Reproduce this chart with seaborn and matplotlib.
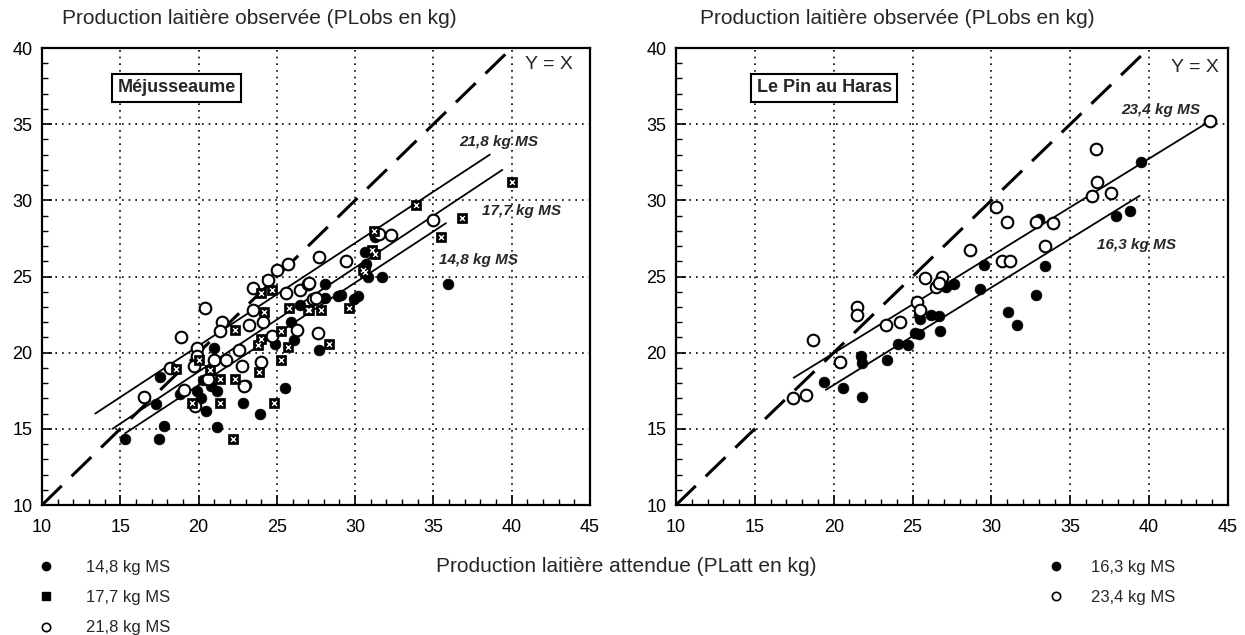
import numpy as np
import pandas as pd
import matplotlib
matplotlib.use("Agg")
import matplotlib.pyplot as plt
import seaborn as sns
from matplotlib.lines import Line2D
from matplotlib.ticker import MultipleLocator

# ---------------- data ----------------
# Méjusseaume : 14,8 kg MS (filled circles)
mej_148_x = [15.3, 17.5, 17.8, 17.55, 17.3, 18.8, 20.15, 20.5, 20.8, 21.2, 21.2, 21.0, 22.86, 23.0, 23.9,
             25.5, 24.9, 26.1, 25.9, 27.7, 28.1, 28.1, 29.1, 29.9, 28.9, 30.17, 30.8, 31.7, 31.3, 30.6,
             30.7, 26.5, 35.9, 20.3, 19.9]
mej_148_y = [14.35, 14.3, 15.2, 18.4, 16.6, 17.3, 17.0, 16.2, 17.8, 17.5, 15.1, 20.3, 16.7, 17.9, 16.0,
             17.65, 20.6, 20.8, 22.0, 20.2, 24.5, 23.6, 23.8, 23.5, 23.7, 23.7, 25.0, 25.0, 27.6, 26.6,
             25.8, 23.1, 24.5, 18.2, 17.5]
# Méjusseaume : 17,7 kg MS (squares)
mej_177_x = [18.55, 19.6, 20.7, 21.4, 21.4, 22.3, 22.3, 22.2, 23.87, 24.2, 24.0, 24.7, 24.8, 25.25, 25.25,
             25.7, 23.8, 24.0, 26.96, 27.8, 28.3, 29.6, 27.05, 30.5, 30.6, 31.3, 31.05, 31.2, 33.9, 35.5,
             36.8, 40.0, 25.8, 20.0]
mej_177_y = [18.9, 16.7, 18.86, 18.25, 16.7, 21.5, 18.3, 14.3, 18.75, 22.7, 23.9, 24.1, 16.7, 21.4, 19.5,
             20.4, 20.5, 20.9, 22.8, 22.8, 20.6, 22.9, 22.8, 25.4, 25.3, 26.5, 26.75, 28.0, 29.7, 27.6,
             28.85, 31.2, 22.9, 19.5]
# Méjusseaume : 21,8 kg MS (open circles)
mej_218_x = [16.5, 18.9, 20.4, 19.9, 19.1, 19.8, 19.7, 19.9, 21.0, 21.5, 21.4, 21.74, 22.6, 22.8, 22.9,
             24.0, 23.5, 24.45, 25.0, 25.7, 23.2, 23.5, 24.1, 26.3, 26.5, 26.96, 25.6, 27.7, 29.4, 27.6,
             27.3, 24.7, 27.5, 27.05, 31.5, 32.3, 35.0, 20.6, 18.2]
mej_218_y = [17.1, 21.0, 22.9, 20.3, 17.55, 16.5, 19.1, 19.8, 19.5, 22.0, 21.4, 19.55, 20.2, 19.1, 17.8,
             19.4, 24.26, 24.8, 25.4, 25.8, 21.8, 22.8, 22.0, 21.5, 24.1, 24.5, 23.9, 26.3, 26.0, 21.3,
             23.5, 21.1, 23.6, 24.6, 27.8, 27.7, 28.7, 18.3, 19.0]

# Le Pin au Haras : 16,3 kg MS (filled circles)
pin_163_x = [19.38, 20.6, 21.77, 21.73, 21.8, 23.4, 24.1, 24.7, 25.15, 25.4, 25.4, 25.5, 26.2, 26.7, 26.75,
             27.1, 27.6, 29.25, 29.55, 31.05, 31.6, 32.8, 33.04, 33.4, 37.9, 38.8, 39.46]
pin_163_y = [18.07, 17.7, 17.1, 19.76, 19.3, 19.5, 20.6, 20.5, 21.3, 21.25, 22.5, 22.2, 22.5, 22.4, 21.4,
             24.3, 24.5, 24.2, 25.76, 22.66, 21.8, 23.8, 28.8, 25.7, 29.0, 29.3, 32.5]
# Le Pin au Haras : 23,4 kg MS (open circles)
pin_234_x = [17.4, 18.27, 18.68, 20.4, 21.5, 21.45, 23.3, 24.2, 25.26, 25.5, 25.8, 26.5, 26.86, 26.7, 28.65,
             30.26, 30.7, 31.2, 30.96, 32.8, 33.4, 33.9, 36.4, 36.7, 36.6, 37.6, 43.85]
pin_234_y = [17.0, 17.2, 20.8, 19.4, 23.0, 22.5, 21.8, 22.0, 23.3, 22.8, 24.9, 24.3, 25.0, 24.6, 26.77,
             29.56, 26.04, 26.04, 28.6, 28.6, 27.0, 28.5, 30.3, 31.2, 33.4, 30.5, 35.2]

# fitted lines: start/end x and y
mej_fit_labels = ["21,8 kg MS", "17,7 kg MS", "14,8 kg MS"]
mej_fit_x0 = [13.4, 14.5, 15.3]
mej_fit_y0 = [16.0, 15.0, 14.7]
mej_fit_x1 = [38.6, 39.4, 35.8]
mej_fit_y1 = [33.0, 32.0, 28.5]
mej_fit_lab_x = [39.2, 40.6, 37.9]
mej_fit_lab_y = [33.85, 29.3, 26.1]

pin_fit_labels = ["23,4 kg MS", "16,3 kg MS"]
pin_fit_x0 = [17.46, 19.5]
pin_fit_y0 = [18.35, 17.56]
pin_fit_x1 = [43.85, 39.4]
pin_fit_y1 = [35.2, 30.3]
pin_fit_lab_x = [40.75, 39.2]
pin_fit_lab_y = [35.9, 27.05]

identity = [10, 40]
x_ticks = [10, 15, 20, 25, 30, 35, 40, 45]
y_ticks = [10, 15, 20, 25, 30, 35, 40]

# ---------------- style ----------------
sns.set_theme(style="white")
plt.rcParams["font.family"] = ["Liberation Sans", "DejaVu Sans"]

W, H = 1245, 635
fig = plt.figure(figsize=(W / 100, H / 100), dpi=100)
fig.patch.set_facecolor("white")

ax_l = fig.add_axes([42 / W, 1 - 505 / H, (590 - 42) / W, (505 - 48) / H])
ax_r = fig.add_axes([676 / W, 1 - 505 / H, (1228 - 676) / W, (505 - 48) / H])


def style_axis(ax):
    ax.set_xlim(10, 45)
    ax.set_ylim(10, 40)
    ax.set_xticks(x_ticks)
    ax.set_yticks(y_ticks)
    ax.xaxis.set_minor_locator(MultipleLocator(1))
    ax.yaxis.set_minor_locator(MultipleLocator(1))
    ax.tick_params(which="major", direction="in", length=7, width=1.2, color="black",
                   labelsize=13, labelcolor="black")
    ax.tick_params(axis="x", which="major", pad=10)
    ax.tick_params(axis="y", which="major", pad=7)
    ax.tick_params(which="minor", direction="in", length=4, width=1.0, color="black")
    ax.tick_params(axis="both", which="both", bottom=True, left=True, top=False, right=False)
    ax.grid(True, which="major", linestyle=(0, (1, 3)), linewidth=1.2, color="black")
    for s in ax.spines.values():
        s.set_color("black")
        s.set_linewidth(1.6)
    ax.set_xlabel("")
    ax.set_ylabel("")
    ax.set_facecolor("white")


def filled(ax, xs, ys):
    df = pd.DataFrame({"x": xs, "y": ys})
    sns.scatterplot(data=df, x="x", y="y", ax=ax, marker="o", s=60, color="black",
                    edgecolor="black", linewidth=0.5, zorder=4, legend=False)


def opened(ax, xs, ys):
    df = pd.DataFrame({"x": xs, "y": ys})
    sns.scatterplot(data=df, x="x", y="y", ax=ax, marker="o", s=70, facecolor="white",
                    edgecolor="black", linewidth=1.5, zorder=4, legend=False)


def squares(ax, xs, ys):
    df = pd.DataFrame({"x": xs, "y": ys})
    sns.scatterplot(data=df, x="x", y="y", ax=ax, marker="s", s=55, color="black",
                    edgecolor="black", linewidth=0.5, zorder=5, legend=False)
    sns.scatterplot(data=df, x="x", y="y", ax=ax, marker="x", s=12, color="white",
                    linewidth=1.0, zorder=6, legend=False)


dash = (0, (9, 4.5))

# ---- left panel ----
ax_l.plot(identity, identity, color="black", linewidth=2.2, linestyle=dash, zorder=3)
for x0, y0, x1, y1 in zip(mej_fit_x0, mej_fit_y0, mej_fit_x1, mej_fit_y1):
    ax_l.plot([x0, x1], [y0, y1], color="black", linewidth=1.3, zorder=3)
filled(ax_l, mej_148_x, mej_148_y)
squares(ax_l, mej_177_x, mej_177_y)
opened(ax_l, mej_218_x, mej_218_y)
for lab, lx, ly in zip(mej_fit_labels, mej_fit_lab_x, mej_fit_lab_y):
    ax_l.text(lx, ly, lab, ha="center", va="center", fontsize=11, fontweight="bold",
              fontstyle="italic", zorder=7)
ax_l.text(42.4, 38.9, "Y = X", ha="center", va="center", fontsize=14, zorder=7)
ax_l.text(18.6, 37.4, "Méjusseaume", ha="center", va="center", fontsize=13, fontweight="bold",
          bbox=dict(boxstyle="square,pad=0.3", facecolor="white", edgecolor="black", linewidth=1.5),
          zorder=7)
style_axis(ax_l)

# ---- right panel ----
ax_r.plot(identity, identity, color="black", linewidth=2.2, linestyle=dash, zorder=3)
for x0, y0, x1, y1 in zip(pin_fit_x0, pin_fit_y0, pin_fit_x1, pin_fit_y1):
    ax_r.plot([x0, x1], [y0, y1], color="black", linewidth=1.3, zorder=3)
filled(ax_r, pin_163_x, pin_163_y)
opened(ax_r, pin_234_x, pin_234_y)
for lab, lx, ly in zip(pin_fit_labels, pin_fit_lab_x, pin_fit_lab_y):
    ax_r.text(lx, ly, lab, ha="center", va="center", fontsize=11, fontweight="bold",
              fontstyle="italic", zorder=7)
ax_r.text(42.9, 38.75, "Y = X", ha="center", va="center", fontsize=14, zorder=7)
ax_r.text(19.4, 37.4, "Le Pin au Haras", ha="center", va="center", fontsize=13, fontweight="bold",
          bbox=dict(boxstyle="square,pad=0.3", facecolor="white", edgecolor="black", linewidth=1.5),
          zorder=7)
style_axis(ax_r)

# ---- titles / axis labels ----
title = "Production laitière observée (PLobs en kg)"
fig.text(62 / W, 1 - 19 / H, title, ha="left", va="center", fontsize=15)
fig.text(700 / W, 1 - 19 / H, title, ha="left", va="center", fontsize=15)
fig.text(626 / W, 1 - 567 / H, "Production laitière attendue (PLatt en kg)", ha="center",
         va="center", fontsize=15)

# ---- legends ----
h148 = Line2D([], [], linestyle="none", marker="o", markersize=6, color="black")
h177 = Line2D([], [], linestyle="none", marker="s", markersize=6, color="black")
h218 = Line2D([], [], linestyle="none", marker="o", markersize=6, markerfacecolor="white",
              markeredgecolor="black", markeredgewidth=1.2)
leg1 = fig.legend([h148, h177, h218], ["14,8 kg MS", "17,7 kg MS", "21,8 kg MS"],
                  loc="upper left", bbox_to_anchor=(31 / W, 1 - 553 / H), frameon=False,
                  fontsize=12, labelspacing=0.92, handletextpad=1.9, handlelength=1.0,
                  borderaxespad=0)
h163 = Line2D([], [], linestyle="none", marker="o", markersize=6, color="black")
h234 = Line2D([], [], linestyle="none", marker="o", markersize=6, markerfacecolor="white",
              markeredgecolor="black", markeredgewidth=1.2)
leg2 = fig.legend([h163, h234], ["16,3 kg MS", "23,4 kg MS"],
                  loc="upper left", bbox_to_anchor=(1041 / W, 1 - 553 / H), frameon=False,
                  fontsize=12, labelspacing=0.92, handletextpad=1.6, handlelength=1.0,
                  borderaxespad=0)

fig.savefig("out.png", dpi=100, facecolor="white")
